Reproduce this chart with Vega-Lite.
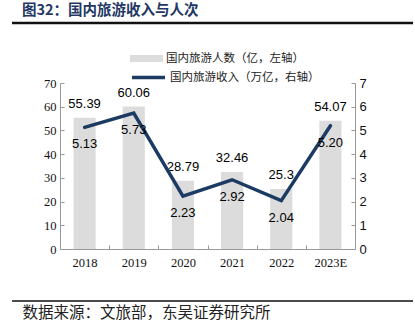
{
  "$schema": "https://vega.github.io/schema/vega-lite/v6.json",
  "width": 295,
  "height": 166,
  "autosize": "none",
  "padding": {"left": 60, "top": 83, "right": 60, "bottom": 74},
  "background": "white",
  "config": {"view": {"stroke": null}, "axis": {"grid": false}},
  "title": {
    "text": "图32：国内旅游收入与人次",
    "anchor": "start",
    "frame": "group",
    "orient": "top",
    "offset": 6,
    "dx": -38,
    "dy": 17,
    "font": "Noto Sans CJK SC",
    "fontSize": 14.5,
    "fontWeight": "bold",
    "color": "#1f3864",
    "baseline": "bottom"
  },
  "datasets": {
    "tour": [
      {"year": "2018", "visitors": 55.39, "revenue": 5.13, "vlabel": "55.39", "rlabel": "5.13"},
      {"year": "2019", "visitors": 60.06, "revenue": 5.73, "vlabel": "60.06", "rlabel": "5.73"},
      {"year": "2020", "visitors": 28.79, "revenue": 2.23, "vlabel": "28.79", "rlabel": "2.23"},
      {"year": "2021", "visitors": 32.46, "revenue": 2.92, "vlabel": "32.46", "rlabel": "2.92"},
      {"year": "2022", "visitors": 25.3, "revenue": 2.04, "vlabel": "25.3", "rlabel": "2.04"},
      {"year": "2023E", "visitors": 54.07, "revenue": 5.2, "vlabel": "54.07", "rlabel": "5.20"}
    ],
    "rules": [{"pos": "top"}, {"pos": "bottom"}]
  },
  "layer": [
    {
      "data": {"name": "tour"},
      "encoding": {
        "x": {
          "field": "year",
          "type": "nominal",
          "sort": null,
          "scale": {"paddingInner": 0, "paddingOuter": 0},
          "axis": {
            "title": "数据来源：文旅部，东吴证券研究所",
            "titleFont": "Noto Sans CJK SC",
            "titleFontSize": 15.5,
            "titleFontWeight": "normal",
            "titleColor": "#222222",
            "titleAnchor": "start",
            "titleAlign": "left",
            "titleBaseline": "alphabetic",
            "titleX": -38,
            "titleY": 68,
            "labelAngle": 0,
            "labelFont": "Liberation Serif",
            "labelFontSize": 12.5,
            "labelColor": "#111111",
            "labelPadding": 11,
            "tickBand": "extent",
            "tickSize": -4,
            "tickColor": "#999999",
            "domainColor": "#999999"
          }
        },
        "y": {
          "field": "visitors",
          "type": "quantitative",
          "scale": {"domain": [0, 70]},
          "axis": {
            "title": null,
            "orient": "left",
            "values": [0, 10, 20, 30, 40, 50, 60, 70],
            "labelOverlap": false,
            "labelFont": "Liberation Serif",
            "labelFontSize": 12.5,
            "labelColor": "#111111",
            "labelPadding": 8,
            "tickSize": -4,
            "tickColor": "#999999",
            "domainColor": "#999999"
          }
        }
      },
      "layer": [
        {
          "mark": {"type": "bar", "width": {"band": 0.45}},
          "encoding": {
            "fill": {
              "datum": "国内旅游人数（亿，左轴）",
              "scale": {"range": ["#dcdcdc"]},
              "legend": {
                "orient": "none",
                "legendX": 70,
                "legendY": -41,
                "title": null,
                "padding": 0,
                "symbolType": "M-1,-0.21H1V0.21H-1Z",
                "symbolSize": 1089,
                "symbolStrokeWidth": 0,
                "labelFont": "Noto Sans CJK SC",
                "labelFontSize": 11.5,
                "labelColor": "#222222",
                "labelOffset": 3
              }
            }
          }
        },
        {
          "mark": {"type": "text", "baseline": "bottom", "dy": -7, "font": "Liberation Sans", "fontSize": 13, "color": "#000000"},
          "encoding": {
            "text": {"field": "vlabel"}
          }
        }
      ]
    },
    {
      "data": {"name": "tour"},
      "encoding": {
        "x": {"field": "year", "type": "nominal", "sort": null},
        "y": {
          "field": "revenue",
          "type": "quantitative",
          "scale": {"domain": [0, 7]},
          "axis": {
            "title": null,
            "orient": "right",
            "values": [0, 1, 2, 3, 4, 5, 6, 7],
            "labelOverlap": false,
            "labelFont": "Liberation Sans",
            "labelFontSize": 13,
            "labelColor": "#111111",
            "labelPadding": 8,
            "tickSize": -4,
            "tickColor": "#999999",
            "domainColor": "#999999"
          }
        }
      },
      "layer": [
        {
          "mark": {"type": "line", "strokeWidth": 3.5, "strokeCap": "round"},
          "encoding": {
            "stroke": {
              "datum": "国内旅游收入（万亿，右轴）",
              "scale": {"range": ["#1c3b63"]},
              "legend": {
                "orient": "none",
                "legendX": 70,
                "legendY": -24,
                "title": null,
                "padding": 0,
                "symbolType": "stroke",
                "symbolSize": 1089,
                "symbolStrokeWidth": 3.5,
                "labelFont": "Noto Sans CJK SC",
                "labelFontSize": 11.5,
                "labelColor": "#222222",
                "labelOffset": 3
              }
            }
          }
        },
        {
          "mark": {"type": "text", "baseline": "top", "dy": 11, "font": "Liberation Sans", "fontSize": 13, "color": "#000000"},
          "encoding": {
            "text": {"field": "rlabel"}
          }
        }
      ]
    },
    {
      "data": {"name": "rules"},
      "transform": [{"filter": "datum.pos === 'top'"}],
      "mark": {"type": "rule", "strokeWidth": 2.5, "stroke": "#111111"},
      "encoding": {"x": {"value": -48}, "x2": {"value": 353}, "y": {"value": -60}, "y2": {"value": -60}}
    },
    {
      "data": {"name": "rules"},
      "transform": [{"filter": "datum.pos === 'bottom'"}],
      "mark": {"type": "rule", "strokeWidth": 1.5, "stroke": "#111111"},
      "encoding": {"x": {"value": -48}, "x2": {"value": 353}, "y": {"value": 218}, "y2": {"value": 218}}
    }
  ],
  "resolve": {"scale": {"y": "independent"}}
}
